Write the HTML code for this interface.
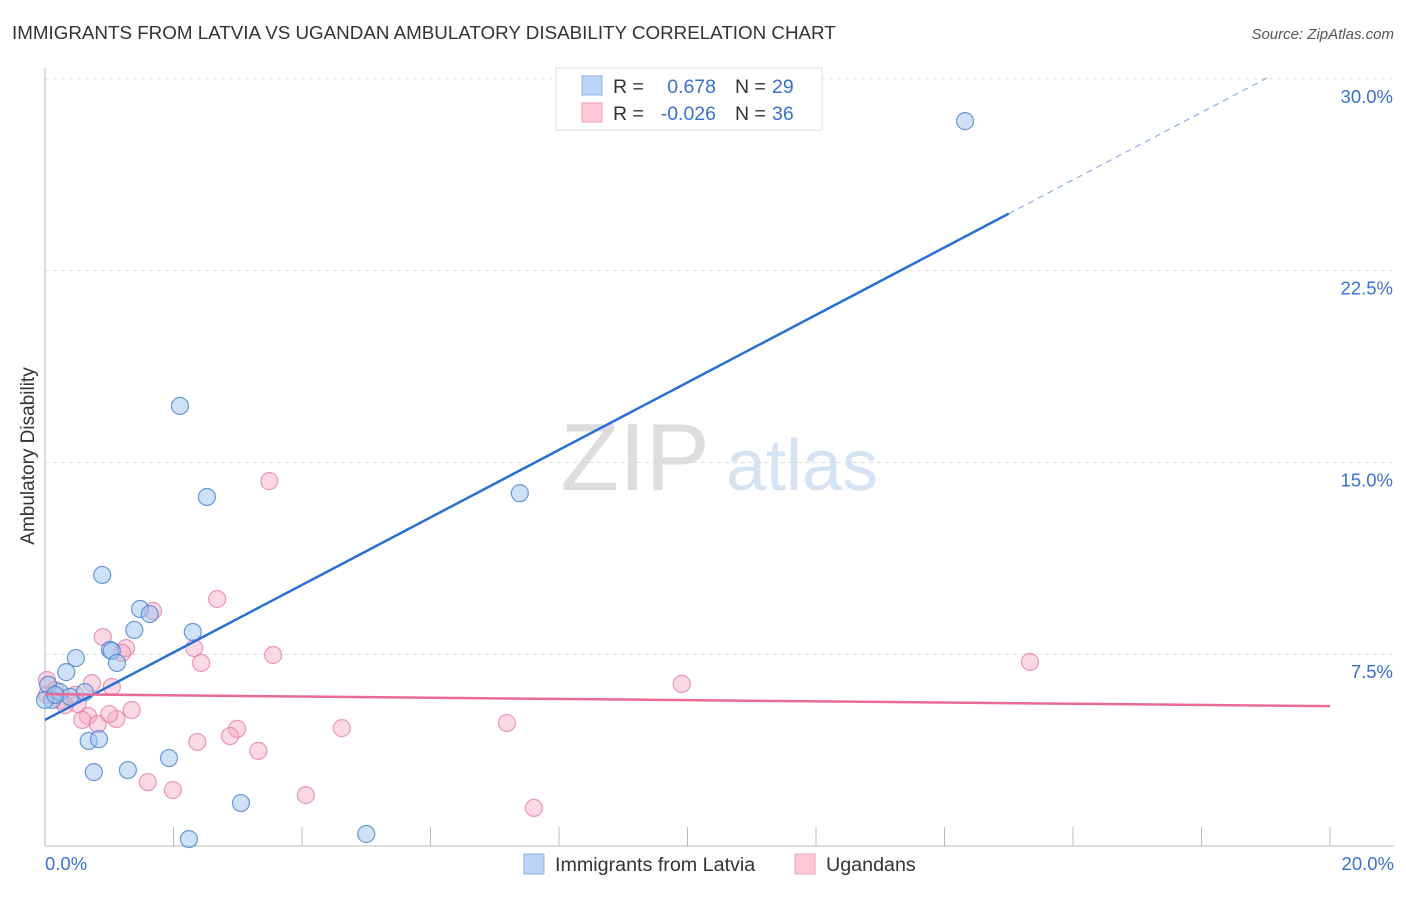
<!DOCTYPE html>
<html><head><meta charset="utf-8"><style>
body{margin:0;background:#fff;font-family:"Liberation Sans",sans-serif}
svg text{font-family:"Liberation Sans",sans-serif}
</style></head><body>
<svg id="chart" width="1406" height="892" viewBox="0 0 1406 892">
<text x="12" y="39" font-size="18.8" fill="#333">IMMIGRANTS FROM LATVIA VS UGANDAN AMBULATORY DISABILITY CORRELATION CHART</text>
<text x="1394" y="39" font-size="15" fill="#555" text-anchor="end" font-style="italic">Source: ZipAtlas.com</text>
<text transform="translate(34,456) rotate(-90)" font-size="19" fill="#333" text-anchor="middle">Ambulatory Disability</text>
<g>
<text x="635" y="490" font-size="96" fill="#ddd" text-anchor="middle" font-family="Liberation Serif">ZIP</text>
<text x="802" y="490" font-size="72" fill="#d6e3f3" text-anchor="middle">atlas</text>
</g>
<g id="grid"></g>
<g id="axes"></g>
<g id="points"></g>
<g id="lines"></g>
<g>
<rect x="556" y="68" width="266" height="62" fill="#fff" stroke="#ddd"/>
<rect x="582" y="76" width="20" height="19" fill="#bcd4f5" stroke="#8ab0e6"/>
<rect x="582" y="103" width="20" height="19" fill="#fcc8d6" stroke="#f0a0b8"/>
<text x="613" y="93" font-size="19.5" fill="#333">R = </text><text x="716" y="93" font-size="19.5" fill="#3a70d0" text-anchor="end">0.678</text>
<text x="735" y="93" font-size="19.5" fill="#333">N = </text><text x="772" y="93" font-size="19.5" fill="#3a70d0">29</text>
<text x="613" y="120" font-size="19.5" fill="#333">R = </text><text x="716" y="120" font-size="19.5" fill="#3a70d0" text-anchor="end">-0.026</text>
<text x="735" y="120" font-size="19.5" fill="#333">N = </text><text x="772" y="120" font-size="19.5" fill="#3a70d0">36</text>
</g>
<g>
<rect x="524" y="854" width="20" height="20" fill="#bcd4f5" stroke="#8ab0e6"/>
<text x="555" y="871" font-size="19.7" fill="#333">Immigrants from Latvia</text>
<rect x="795" y="854" width="20" height="20" fill="#fcc8d6" stroke="#f0a0b8"/>
<text x="826" y="871" font-size="19.7" fill="#333">Ugandans</text>
</g>
</svg>
<script>
const yTicks=[7.5,15,22.5,30];
const yTickLabels=["7.5%","15.0%","22.5%","30.0%"];
const xTicks=[0,1,2,3,4,5,6,7,8,9,10,11,12,13,14,15,16,17,18,19,20];
const latviaX=[14.32,2.10,2.52,7.39,0.89,1.48,1.63,1.39,2.30,1.01,1.04,1.12,0.48,0.33,0.05,0.11,0.23,0.39,0.62,0.00,0.68,0.84,0.76,1.29,1.93,3.05,2.24,5.00,0.16];
const latviaY=[28.35,17.21,13.65,13.80,10.60,9.27,9.07,8.45,8.37,7.67,7.63,7.16,7.35,6.80,6.30,5.71,6.02,5.83,6.02,5.71,4.11,4.18,2.89,2.97,3.44,1.68,0.27,0.47,5.91];
const ugX=[3.49,2.68,1.68,0.90,1.26,1.20,2.32,3.55,2.43,15.33,9.91,0.73,1.04,0.03,0.03,0.23,0.51,0.67,0.58,0.82,1.11,1.00,1.35,2.99,2.88,4.62,7.19,2.37,3.32,1.60,1.99,4.06,7.61,0.31,0.16,0.47];
const ugY=[14.27,9.66,9.19,8.17,7.74,7.55,7.74,7.47,7.16,7.20,6.34,6.37,6.22,6.49,5.91,5.71,5.55,5.08,4.93,4.77,4.97,5.16,5.32,4.58,4.30,4.61,4.81,4.07,3.72,2.50,2.19,1.99,1.49,5.51,6.10,5.91];
const latviaTrend=[4.93,1.32];
const ugTrend=[5.94,-0.0235];
const NS="http://www.w3.org/2000/svg";
const X=v=>45+v*64.25, Y=v=>846-v*25.57;
function mk(t,a,p){const e=document.createElementNS(NS,t);for(const k in a)e.setAttribute(k,a[k]);p.appendChild(e);return e;}
const grid=document.getElementById('grid'),axes=document.getElementById('axes'),pts=document.getElementById('points'),lines=document.getElementById('lines');
yTicks.forEach((v,i)=>{
const l=mk('line',{x1:45,x2:1394,y1:Y(v),y2:Y(v),stroke:'#ddd','stroke-dasharray':'4,4'},grid);


const t=mk('text',{x:1393,y:Y(v)+24,'font-size':18.5,fill:'#3a70d0','text-anchor':'end'},axes);t.textContent=yTickLabels[i];


});
const ax=mk('line',{x1:45,x2:45,y1:68,y2:846,stroke:'#bbb'},axes);


const bx=mk('line',{x1:45,x2:1394,y1:846,y2:846,stroke:'#bbb'},axes);


xTicks.forEach(v=>{if(v%2)return;const t=mk('line',{x1:X(v),x2:X(v),y1:827,y2:846,stroke:'#bbb'},axes);

});
const xl0=mk('text',{x:45,y:870,'font-size':18.5,fill:'#3a70d0'},axes);xl0.textContent='0.0%';


const xl1=mk('text',{x:1394,y:870,'font-size':18.5,fill:'#3a70d0','text-anchor':'end'},axes);xl1.textContent='20.0%';


ugX.forEach((x,i)=>{const c=mk('circle',{cx:X(x),cy:Y(ugY[i]),r:8.5,fill:'rgba(245,170,195,0.45)',stroke:'rgba(230,120,155,0.75)','stroke-width':1.2},pts);

});
latviaX.forEach((x,i)=>{const c=mk('circle',{cx:X(x),cy:Y(latviaY[i]),r:8.5,fill:'rgba(160,195,240,0.5)',stroke:'rgba(70,130,210,0.8)','stroke-width':1.2},pts);

});
const f=(tr,x)=>tr[0]+tr[1]*x;
const l1=mk('line',{x1:X(0),y1:Y(f(latviaTrend,0)),x2:X(15),y2:Y(f(latviaTrend,15)),stroke:'#2a6fd6','stroke-width':2.5},lines);


const l2=mk('line',{x1:X(15),y1:Y(f(latviaTrend,15)),x2:X(19.05),y2:Y(f(latviaTrend,19.05)),stroke:'#8ab0e0','stroke-width':1.2,'stroke-dasharray':'6,5'},lines);


const l3=mk('line',{x1:X(0),y1:Y(f(ugTrend,0)),x2:X(20),y2:Y(f(ugTrend,20)),stroke:'#e86a95','stroke-width':2.5},lines);


</script>
</body></html>
